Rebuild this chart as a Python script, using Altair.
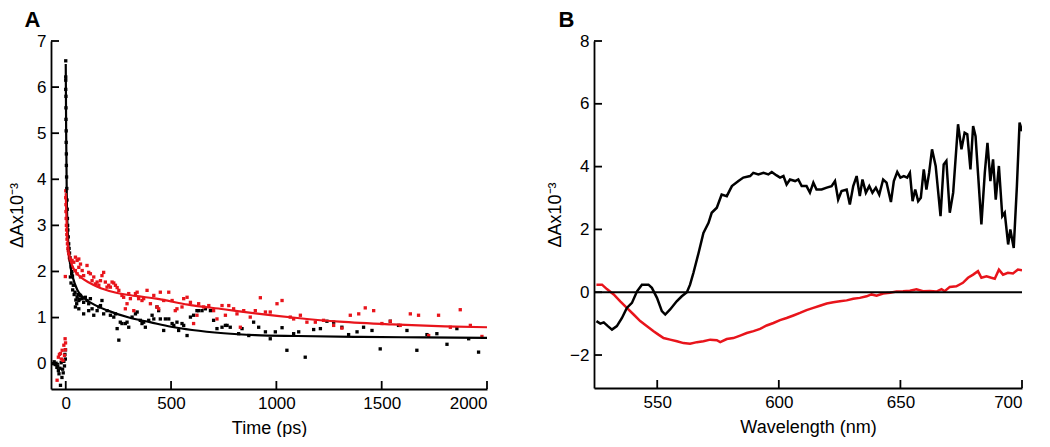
import altair as alt
import pandas as pd

# ---------------- Panel A: kinetic traces ----------------
black_t = [-60, -55, -50, -46, -42, -38, -35, -32, -28, -25, -22, -18, -15, -12, -9, -6, -4, -2, -1,
           0, 0, 0, 0, 1, 1, 1, 2, 2, 3, 3, 4, 5, 6, 7, 8, 9, 10, 12, 14, 16, 18, 20, 23, 26, 29, 32,
           22, 25, 28, 33, 36, 40, 44, 48, 52, 58, 66,
           54, 62, 70, 78, 85, 93, 101, 109, 117, 46, 62, 85, 109, 125, 133, 149, 157, 172, 165, 180,
           196, 212, 228, 236, 244, 252, 259, 267, 283, 291, 299, 315, 331, 339, 354, 362, 370, 378,
           394, 410, 418, 433, 441, 449, 465, 473, 489, 505, 513, 536, 528, 552, 560, 576, 592, 607,
           623, 631, 647, 663, 687, 702, 718, 742, 758, 766, 781, 821, 837, 869, 892, 916, 948, 971,
           995, 1027, 1050, 1082, 1106, 1137, 1177, 1209, 1240, 1272, 1311, 1343, 1383, 1414, 1454,
           1493, 1541, 1580, 1620, 1667, 1715, 1762, 1810, 1857, 1913, 1960]
black_v = [0.0, 0.04, -0.02, 0.01, -0.08, -0.05, -0.15, -0.22, -0.1, -0.47, 0.02, -0.3, -0.12, -0.2, 0.05, -0.05, 0.2, 0.1, 0.3,
           6.57, 6.22, 6.15, 5.95, 5.8, 5.55, 5.3, 5.05, 4.8, 4.55, 4.3, 4.05, 3.8, 3.55, 3.35, 3.15, 3.0, 2.9, 2.75, 2.6, 2.5, 2.4, 2.3, 2.2, 2.1, 2.0, 1.9,
           1.88, 1.75, 1.95, 1.6, 1.7, 1.5, 1.55, 1.38, 1.3, 1.5, 1.4,
           1.44, 1.37, 1.48, 1.41, 1.33, 1.44, 1.37, 1.30, 1.41, 1.23, 1.19, 1.08, 1.15, 1.19, 1.05, 1.15, 1.23, 1.37, 1.26, 1.08,
           1.15, 1.05, 1.01, 1.08, 0.76, 0.51, 0.90, 0.87, 0.87, 0.90, 0.79, 1.01, 1.08, 1.12, 0.94, 0.87, 0.90, 0.79,
           0.94, 1.05, 0.97, 1.23, 1.15, 0.97, 0.72, 0.97, 0.97, 0.87, 0.83, 0.72, 0.90, 0.87, 0.83, 0.61, 1.01, 1.05,
           1.15, 1.15, 1.15, 1.19, 1.15, 0.94, 0.76, 0.79, 0.83, 0.83, 0.79, 0.65, 0.76, 0.61, 0.90, 0.79, 0.69, 0.54,
           0.69, 0.78, 0.29, 0.65, 0.69, 0.14, 0.74, 0.76, 0.92, 0.90, 0.79, 0.63, 0.69, 0.79, 0.72,
           0.32, 0.92, 0.83, 0.72, 0.29, 0.63, 0.65, 0.42, 0.76, 0.54, 0.25]

red_t = [-41, -35, -30, -25, -21, -17, -13, -9, -6, -3, -2, -1, -2,
         0, 0, 1, 1, 2, 3, 4, 5, 6, 8, 10, 12, 14, 17, 20,
         22, 30, 38, 46, 54, 62, 70, 30, 46, 62, 78, 54, 70, 85, 101, 109, 117, 125, 133, 141, 149, 157,
         165, 172, 180, 188, 196, 204, 212, 220, 228, 236, 244, 252, 267, 275, 283, 291, 299, 307, 323,
         331, 339, 346, 362, 370, 386, 402, 418, 433, 441, 449, 465, 489, 505, 520, 528, 552, 560, 576,
         592, 607, 623, 631, 655, 679, 702, 718, 742, 758, 774, 797, 813, 829, 845, 876, 900, 924, 948,
         971, 1003, 1027, 1066, 1082, 1114, 1145, 1185, 1224, 1272, 1311, 1351, 1391, 1422, 1462, 1501,
         1541, 1588, 1636, 1675, 1723, 1770, 1826, 1873, 1921, 1976]
red_v = [-0.36, 0.14, 0.2, 0.22, 0.1, 0.29, 0.07, 0.4, 0.18, 0.54, 0.3, 0.45, 1.89,
         3.75, 3.6, 3.45, 3.3, 3.15, 3.0, 2.9, 2.8, 2.7, 2.6, 2.5, 2.45, 2.38, 2.3, 2.25,
         2.27, 2.24, 2.20, 2.31, 2.24, 2.27, 2.16, 2.09, 2.02, 2.09, 2.02, 1.95, 1.88, 1.91, 2.13, 1.98, 1.95, 1.80, 1.88, 1.73, 1.77, 1.70,
         1.80, 1.91, 1.98, 1.77, 1.66, 1.70, 1.66, 1.77, 1.75, 1.70, 1.65, 1.59, 1.48, 1.44, 1.19, 1.30, 1.52, 1.41, 1.15,
         1.52, 1.55, 1.41, 1.37, 1.41, 1.59, 1.30, 1.48, 1.23, 1.19, 1.55, 1.37, 1.55, 1.37, 1.15, 1.19, 1.23, 1.41, 1.44,
         1.33, 0.87, 1.05, 1.30, 1.23, 1.26, 1.15, 0.97, 1.26, 1.05, 1.26, 1.19, 1.08, 0.79, 1.15, 1.01, 1.15, 1.43, 1.12,
         1.12, 1.30, 1.37, 1.01, 0.97, 1.05, 0.90, 0.90, 0.94, 0.83, 0.77, 1.05, 1.08, 1.21, 1.15, 0.87,
         0.92, 0.83, 1.08, 1.05, 0.61, 1.05, 0.79, 1.17, 0.83, 0.59]

fit_black_t = [0, 2, 5, 10, 20, 35, 55, 80, 120, 200, 300, 400, 500, 600, 750, 900, 1100, 1400, 1700, 2000]
fit_black_v = [6.5, 5.0, 3.6, 2.8, 2.2, 1.85, 1.6, 1.45, 1.32, 1.15, 1.0, 0.9, 0.8, 0.73, 0.66, 0.62, 0.6, 0.58, 0.57, 0.56]
fit_red_t = [0, 3, 8, 15, 25, 45, 70, 110, 150, 230, 330, 430, 580, 750, 900, 1100, 1300, 1550, 1800, 2000]
fit_red_v = [3.7, 3.2, 2.7, 2.4, 2.2, 2.0, 1.88, 1.76, 1.67, 1.55, 1.47, 1.41, 1.28, 1.18, 1.09, 0.99, 0.91, 0.85, 0.81, 0.79]

a_xticks = [0, 500, 1000, 1500, 2000]
a_yticks = [0, 1, 2, 3, 4, 5, 6, 7]

# ---------------- Panel B: spectra ----------------
black_wl = [525, 526.6, 528, 529.7, 531.4, 533.4, 535.5, 537.5, 539.6, 541.7, 543.7, 546.4, 547.8, 549.9,
            551.9, 553.3, 555.3, 558, 560.1, 562.2, 563.5, 564.9, 567, 569, 571.1, 572.4, 574.5, 576.5,
            578.6, 580.7, 583.4, 585.4, 588.2, 589.5, 591.6, 593.7, 595.7, 597.1, 599.1, 600.5, 601.9,
            603.2, 604.6, 606.7, 608, 609.4, 611.4, 612.8, 614.2, 615.5, 617.6, 619.7, 621.7, 623.1,
            624.4, 625.8, 627.9, 629.2, 630.6, 632, 633.3, 634.4, 635.8, 637.2, 638.5, 639.9, 641.3,
            642.9, 644.3, 646.1, 647.3, 648.7, 650, 651.4, 652.8, 653.9, 655, 656.1, 657.3, 658.4,
            659.6, 660.7, 661.8, 663, 664.5, 666.5, 667.8, 668.9, 670.3, 671.7, 673.7, 675.1, 676.4,
            677.5, 678.8, 679.9, 680.9, 681.9, 683.3, 684.7, 685.8, 687, 688.1, 689.2, 690.5, 691.9,
            692.9, 694.3, 695.2, 696.6, 697.9, 699, 700]
black_dA = [-0.92, -1.0, -0.96, -1.08, -1.19, -1.08, -0.82, -0.5, -0.34, 0.03, 0.24, 0.24, 0.14, -0.18,
            -0.6, -0.71, -0.55, -0.29, -0.13, 0.0, 0.24, 0.62, 1.25, 1.89, 2.21, 2.53, 2.69, 3.11,
            3.06, 3.38, 3.54, 3.65, 3.7, 3.8, 3.75, 3.8, 3.75, 3.83, 3.72, 3.65, 3.7,
            3.43, 3.59, 3.54, 3.59, 3.38, 3.38, 3.17, 3.49, 3.27, 3.27, 3.33, 3.38, 3.54,
            2.95, 3.22, 3.27, 2.79, 3.38, 3.7, 3.06, 3.59, 3.17, 3.38, 3.17, 3.33, 3.11,
            3.59, 3.49, 2.87, 3.54, 3.83, 3.65, 3.7, 3.65, 3.8, 2.9, 3.27, 2.9, 3.01,
            3.91, 3.27, 3.8, 4.55, 4.02, 2.42, 4.07, 4.18, 2.53, 3.17, 5.35, 4.55, 5.08,
            5.03, 3.91, 5.29, 4.97, 3.8, 2.16, 3.8, 4.76, 3.54, 4.23, 2.95, 4.02, 2.42,
            2.53, 1.52, 2.0, 1.41, 3.38, 5.4, 5.13]

red_wl = [525, 527.3, 529.3, 532.1, 534.8, 537.5, 540.3, 543, 545.8, 548.5, 550.5, 552.6, 555.3, 558.1,
          560.8, 563.5, 566.3, 569, 571.8, 574.5, 575.9, 578.6, 581.3, 584.1, 586.8, 589.6, 592.3,
          595, 597.8, 600.5, 603.2, 606, 608.7, 611.4, 614.2, 616.9, 619.7, 622.4, 625.1, 627.9,
          630.6, 633.3, 636.1, 638.1, 640.2, 642.9, 645.7, 648.4, 651.1, 653.9, 656.6, 659.3, 662.1,
          664.8, 666.9, 668.2, 670.3, 673, 675.7, 677.8, 679.9, 681.9, 683.3, 685.4, 687.4, 688.8,
          690.5, 692.2, 694.2, 696.3, 698.3, 700]
red_dA = [0.24, 0.24, 0.1, -0.07, -0.29, -0.5, -0.71, -0.92, -1.08, -1.24, -1.35, -1.46, -1.51, -1.56,
          -1.62, -1.64, -1.59, -1.56, -1.51, -1.53, -1.59, -1.49, -1.46, -1.38, -1.3, -1.24, -1.17,
          -1.06, -0.98, -0.89, -0.82, -0.74, -0.66, -0.57, -0.5, -0.43, -0.36, -0.32, -0.29, -0.26,
          -0.21, -0.18, -0.13, -0.07, -0.11, -0.04, -0.02, 0.02, 0.03, 0.05, 0.09, 0.03, 0.04,
          0.02, 0.1, 0.03, 0.17, 0.19, 0.3, 0.46, 0.56, 0.67, 0.46, 0.51, 0.46, 0.43,
          0.72, 0.56, 0.62, 0.6, 0.72, 0.7]

b_xticks = [550, 600, 650, 700]
b_yticks = [-2, 0, 2, 4, 6, 8]

RED = "#e8141b"
FONT = "Liberation Sans"
YTITLE = "\u0394Ax10\u207b\u00b3"
TICK = 8

# ---------- Panel A ----------
WA, HA = 436, 348
ptsA = pd.concat([
    pd.DataFrame({"t": black_t, "v": black_v, "s": "black"}),
    pd.DataFrame({"t": red_t, "v": red_v, "s": "red"}),
])
fitB = pd.DataFrame({"t": fit_black_t, "v": fit_black_v})
fitR = pd.DataFrame({"t": fit_red_t, "v": fit_red_v})

sxA = alt.Scale(domain=[-70, 2000], nice=False, zero=False)
syA = alt.Scale(domain=[-0.55, 7], nice=False, zero=False)
axA_x = alt.Axis(values=a_xticks, format="d", title="Time (ps)", ticks=False, labelPadding=6, titlePadding=8)
axA_y = alt.Axis(values=a_yticks, title=YTITLE, ticks=False, labelPadding=5, titlePadding=10)
xA = alt.X("t:Q", scale=sxA, axis=axA_x)
yA = alt.Y("v:Q", scale=syA, axis=axA_y)

base_pts = alt.Chart(ptsA).mark_square(size=11, opacity=1, clip=True).encode(
    x=xA, y=yA,
    color=alt.Color("s:N", scale=alt.Scale(domain=["black", "red"], range=["black", RED]), legend=None),
)
lineB = alt.Chart(fitB).mark_line(color="black", strokeWidth=2.2, interpolate="monotone", clip=True).encode(x=xA, y=yA)
lineR = alt.Chart(fitR).mark_line(color=RED, strokeWidth=2.2, interpolate="monotone", clip=True).encode(x=xA, y=yA)
ytA = alt.Chart(pd.DataFrame({"v": a_yticks})).mark_rule(color="black", strokeWidth=1.8).encode(
    y=yA, x=alt.value(0), x2=alt.value(TICK))
xtA = alt.Chart(pd.DataFrame({"t": a_xticks})).mark_rule(color="black", strokeWidth=1.8).encode(
    x=xA, y=alt.value(HA), y2=alt.value(HA - TICK))

panelA = alt.layer(base_pts, lineB, lineR, ytA, xtA).properties(
    width=WA, height=HA,
    title=alt.Title("A", anchor="start", fontSize=22, fontWeight="bold", font=FONT, color="black", dx=16, offset=0),
)

# ---------- Panel B ----------
WB, HB = 428, 347
specK = pd.DataFrame({"wl": black_wl, "dA": black_dA})
specR = pd.DataFrame({"wl": red_wl, "dA": red_dA})
sxB = alt.Scale(domain=[524, 700], nice=False, zero=False)
syB = alt.Scale(domain=[-3.05, 8], nice=False, zero=False)
axB_x = alt.Axis(values=b_xticks, title="Wavelength (nm)", ticks=False, labelPadding=6, titlePadding=8)
axB_y = alt.Axis(values=b_yticks, title=YTITLE, ticks=False, labelPadding=5, titlePadding=5)
xB = alt.X("wl:Q", scale=sxB, axis=axB_x)
yB = alt.Y("dA:Q", scale=syB, axis=axB_y)

lK = alt.Chart(specK).mark_line(color="black", strokeWidth=2.5, clip=True).encode(x=xB, y=yB)
lR = alt.Chart(specR).mark_line(color=RED, strokeWidth=2.5, clip=True).encode(x=xB, y=yB)
zero = alt.Chart(pd.DataFrame({"dA": [0]})).mark_rule(color="black", strokeWidth=2).encode(y=yB)
ytB = alt.Chart(pd.DataFrame({"dA": b_yticks})).mark_rule(color="black", strokeWidth=1.8).encode(
    y=yB, x=alt.value(0), x2=alt.value(TICK))
xtB = alt.Chart(pd.DataFrame({"wl": b_xticks})).mark_rule(color="black", strokeWidth=1.8).encode(
    x=xB, y=alt.value(HB), y2=alt.value(HB - TICK))

panelB = alt.layer(lR, lK, zero, ytB, xtB).properties(
    width=WB, height=HB,
    title=alt.Title("B", anchor="start", fontSize=22, fontWeight="bold", font=FONT, color="black", dx=12, offset=0),
)

chart = alt.hconcat(panelA, panelB, spacing=58).properties(
    padding={"left": 0, "top": 1, "right": 0, "bottom": 0}
).configure_view(stroke=None).configure_axis(
    domainColor="black", domainWidth=1.8,
    labelFont=FONT, labelFontSize=17, labelColor="black",
    titleFont=FONT, titleFontSize=18, titleColor="black", titleFontWeight="normal",
    grid=False,
)

chart.save("out.html", embed_options={"renderer": "svg", "actions": False})
